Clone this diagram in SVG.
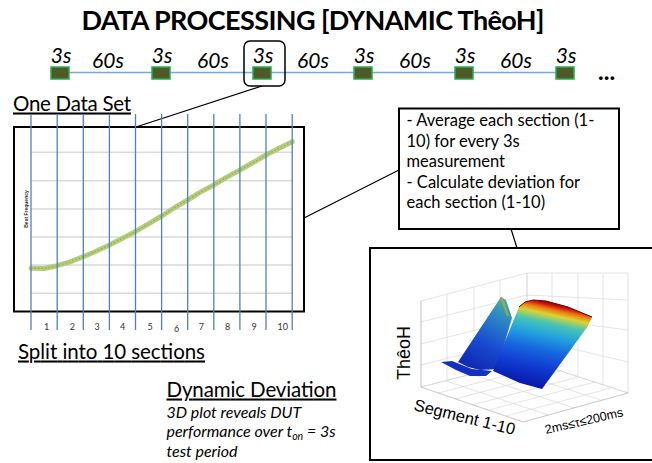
<svg xmlns="http://www.w3.org/2000/svg" width="652" height="463" viewBox="0 0 652 463">
<defs>
<style>
.cal{font-family:Lato,"Open Sans","Liberation Sans",sans-serif;fill:#000}
.ital{font-style:italic}
.box{fill:none;stroke:#000;stroke-width:2}
.conn{fill:none;stroke:#000;stroke-width:1.2}
.sq{fill:#4f5a28;stroke:#22b14c;stroke-width:1.5}
.vline{stroke:#4f81bd;stroke-width:1.3}
.hgrid{stroke:#d9d9d9;stroke-width:1.4}
.g3{fill:none;stroke:#d2d2d2;stroke-width:0.6}
.arial{font-family:"Liberation Sans",Arial,sans-serif;fill:#000}
</style>
<linearGradient id="slab" gradientUnits="userSpaceOnUse" x1="558" y1="303" x2="539" y2="388">
<stop offset="0" stop-color="#7a0000"/>
<stop offset="0.04" stop-color="#c81410"/>
<stop offset="0.09" stop-color="#f07a10"/>
<stop offset="0.15" stop-color="#d8d430"/>
<stop offset="0.25" stop-color="#48c4b4"/>
<stop offset="0.4" stop-color="#20a0e0"/>
<stop offset="0.56" stop-color="#1868e0"/>
<stop offset="0.78" stop-color="#1038d0"/>
<stop offset="1" stop-color="#0818a8"/>
</linearGradient>
<linearGradient id="ridge" gradientUnits="userSpaceOnUse" x1="505" y1="298" x2="470" y2="368">
<stop offset="0" stop-color="#48b0a0"/>
<stop offset="0.3" stop-color="#2a80c8"/>
<stop offset="0.65" stop-color="#1848d0"/>
<stop offset="1" stop-color="#1028b0"/>
</linearGradient>
<clipPath id="plot3d"><rect x="371" y="249" width="281" height="210"/></clipPath>
</defs>

<g id="title">
<text class="cal" x="313" y="30" font-size="27" font-weight="bold" text-anchor="middle" textLength="463">DATA PROCESSING [DYNAMIC ThêoH]</text>
</g>

<g id="connectors">
<line x1="60" y1="72.5" x2="565" y2="72.5" stroke="#7aa6dc" stroke-width="1.5"/>
<line class="conn" x1="262" y1="86" x2="136" y2="127"/>
<line class="conn" x1="304" y1="218" x2="399" y2="170"/>
<line class="conn" x1="511" y1="229" x2="517" y2="248"/>
</g>

<g id="timeline">
<rect class="sq" x="51" y="67" width="18" height="12"/>
<rect class="sq" x="152" y="67" width="18" height="12"/>
<rect class="sq" x="253" y="67" width="18" height="12"/>
<rect class="sq" x="354" y="67" width="18" height="12"/>
<rect class="sq" x="455" y="67" width="18" height="12"/>
<rect class="sq" x="556" y="67" width="18" height="12"/>
<g class="cal ital" font-size="21" text-anchor="middle">
<text x="61" y="63">3s</text>
<text x="108" y="68">60s</text>
<text x="162" y="63">3s</text>
<text x="213" y="68">60s</text>
<text x="263" y="63">3s</text>
<text x="313" y="68">60s</text>
<text x="364" y="63">3s</text>
<text x="415" y="68">60s</text>
<text x="465" y="63">3s</text>
<text x="516" y="68">60s</text>
<text x="566" y="63">3s</text>
</g>
<text class="cal" x="598" y="80" font-size="24" font-weight="bold">...</text>
</g>

<g id="selected-3s">
<rect x="244" y="41" width="41" height="45" rx="6" fill="none" stroke="#000" stroke-width="1.5"/>
</g>

<g id="one-data-set">
<text class="cal" x="13" y="110.5" font-size="20.5" text-decoration="underline" textLength="118">One Data Set</text>
<g class="hgrid">
<line x1="31" y1="152.3" x2="293" y2="152.3"/>
<line x1="31" y1="180.7" x2="293" y2="180.7"/>
<line x1="31" y1="209" x2="293" y2="209"/>
<line x1="31" y1="237" x2="293" y2="237"/>
<line x1="31" y1="265" x2="293" y2="265"/>
<line x1="31" y1="293.3" x2="293" y2="293.3"/>
</g>
<text font-family="Liberation Sans,Arial,sans-serif" font-size="5" font-weight="bold" fill="#333" transform="translate(27.5 209) rotate(-90)" text-anchor="middle">Beat Frequency</text>
<polyline fill="none" stroke="#b4cc7c" stroke-width="5" stroke-linecap="round" stroke-linejoin="round" points="31,268.3 44,268.5 57.3,265.7 70,261.8 83.3,256.7 96,251.2 109.3,245 122,238.5 135.3,231.7 148,224.2 161.7,216 174,208 187.7,200 200,192.4 213.7,185 226,177.6 240,170 253,162.5 266,155 279,148.2 292.3,141.7"/>
<polyline fill="none" stroke="#8aae48" stroke-width="1.2" stroke-dasharray="1.5 2" points="31,268.3 44,268.5 57.3,265.7 70,261.8 83.3,256.7 96,251.2 109.3,245 122,238.5 135.3,231.7 148,224.2 161.7,216 174,208 187.7,200 200,192.4 213.7,185 226,177.6 240,170 253,162.5 266,155 279,148.2 292.3,141.7"/>
<rect class="box" x="14" y="127" width="290" height="184.5"/>
<g class="vline">
<line x1="31" y1="114" x2="31" y2="330"/>
<line x1="57.2" y1="114" x2="57.2" y2="330"/>
<line x1="83.3" y1="114" x2="83.3" y2="330"/>
<line x1="109.4" y1="114" x2="109.4" y2="330"/>
<line x1="135.5" y1="114" x2="135.5" y2="330"/>
<line x1="161.6" y1="114" x2="161.6" y2="330"/>
<line x1="187.7" y1="114" x2="187.7" y2="330"/>
<line x1="213.8" y1="114" x2="213.8" y2="330"/>
<line x1="239.9" y1="114" x2="239.9" y2="330"/>
<line x1="266" y1="114" x2="266" y2="330"/>
<line x1="292.2" y1="114" x2="292.2" y2="330"/>
</g>
<g font-family="Lato,'Open Sans',sans-serif" font-size="9" fill="#333" text-anchor="middle">
<text x="46.5" y="330">1</text>
<text x="72.3" y="330">2</text>
<text x="97" y="330">3</text>
<text x="122.7" y="330">4</text>
<text x="150" y="330">5</text>
<text x="176.7" y="332">6</text>
<text x="201.3" y="330">7</text>
<text x="227.7" y="330">8</text>
<text x="254" y="330">9</text>
<text x="282.7" y="330">10</text>
</g>
<text class="cal" x="18" y="358.5" font-size="20.5" text-decoration="underline" textLength="187">Split into 10 sections</text>
</g>

<g id="process-box">
<rect class="box" x="399" y="108.5" width="220" height="120.5" fill="#fff"/>
<g class="cal" font-size="16.5">
<text x="406.5" y="126">- Average each section (1-</text>
<text x="406.5" y="146.5">10) for every 3s</text>
<text x="406.5" y="167">measurement</text>
<text x="406.5" y="187.5">- Calculate deviation for</text>
<text x="406.5" y="208">each section (1-10)</text>
</g>
</g>

<g id="dynamic-deviation">
<text class="cal" x="166.5" y="396.5" font-size="20.5" text-decoration="underline" textLength="170">Dynamic Deviation</text>
<g class="cal ital" font-size="16">
<text x="166.5" y="418.3">3D plot reveals DUT</text>
<text x="166.5" y="437.3">performance over t<tspan font-size="10.5" dy="3">on</tspan><tspan dy="-3"> = 3s</tspan></text>
<text x="166.5" y="456.7">test period</text>
</g>
</g>

<g id="plot-3d">
<g clip-path="url(#plot3d)">
<rect x="371" y="249" width="281" height="210" fill="#fff"/>
<g class="g3">
<polygon points="421,301 527,273 527,360 421,387"/>
<polygon points="527,273 628,273 628,393 527,360"/>
<polygon points="421,387 527,360 628,393 523,422"/>
<line x1="421" y1="322" x2="527" y2="295"/>
<line x1="421" y1="344" x2="527" y2="317"/>
<line x1="421" y1="365" x2="527" y2="338"/>
<line x1="447" y1="294" x2="447" y2="381"/>
<line x1="474" y1="287" x2="474" y2="374"/>
<line x1="500" y1="280" x2="500" y2="367"/>
<line x1="527" y1="295" x2="628" y2="300"/>
<line x1="527" y1="317" x2="628" y2="330"/>
<line x1="527" y1="338" x2="628" y2="362"/>
<line x1="552" y1="273" x2="552" y2="368"/>
<line x1="578" y1="273" x2="578" y2="376"/>
<line x1="603" y1="273" x2="603" y2="385"/>
<line x1="438" y1="393" x2="544" y2="366"/>
<line x1="455" y1="399" x2="561" y2="371"/>
<line x1="472" y1="405" x2="578" y2="377"/>
<line x1="489" y1="410" x2="595" y2="382"/>
<line x1="506" y1="416" x2="611" y2="388"/>
<line x1="446" y1="381" x2="548" y2="415"/>
<line x1="471" y1="374" x2="574" y2="408"/>
<line x1="499" y1="367" x2="601" y2="400"/>
<line x1="421" y1="387" x2="523" y2="422" stroke="#bbb"/>
<line x1="523" y1="422" x2="628" y2="393" stroke="#bbb"/>
<line x1="421" y1="301" x2="421" y2="387" stroke="#bbb"/>
</g>
<polygon points="441,362 452,361 462,365 472,369 492,371 486,376 470,376 456,370" fill="#1530c0"/>
<polygon points="458,362 501,297 506,300 512,318 497,369 480,370 468,367" fill="url(#ridge)"/>
<line x1="501" y1="297" x2="508" y2="316" stroke="#a8a83c" stroke-width="2"/>
<polygon points="493,371 519,307 525,302 533,300 546,301 568,307 592,317 588,326 542,389 520,383" fill="url(#slab)"/>
<polyline points="519,307 525,302 533,300 546,301 568,307 592,317" fill="none" stroke="#6a0000" stroke-width="1"/>
<text class="arial" font-size="18" transform="translate(410 353) rotate(-90)" text-anchor="middle">ThêoH</text>
<text class="arial" font-size="16.5" transform="translate(413 410) rotate(14)">Segment 1-10</text>
<text class="arial" font-size="12.5" transform="translate(546 434) rotate(-13)">2ms≤τ≤200ms</text>
</g>
<rect class="box" x="370" y="248" width="290" height="212"/>
</g>
</svg>
